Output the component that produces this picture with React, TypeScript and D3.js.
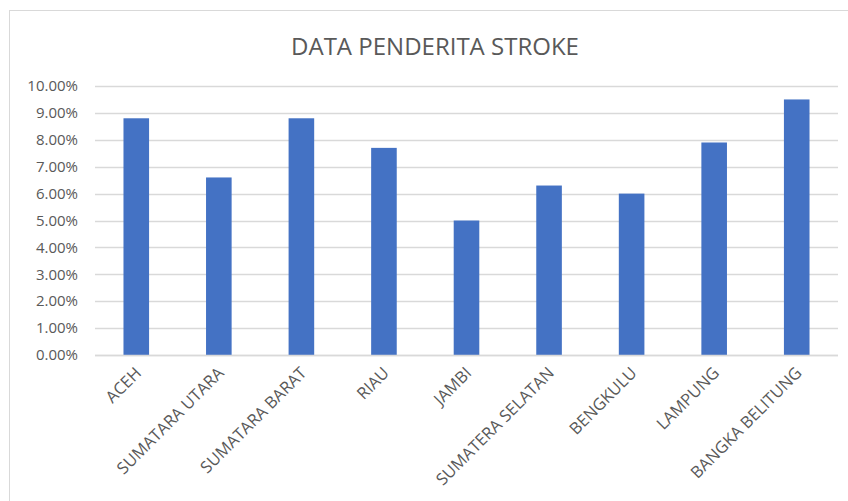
import React, { useEffect, useRef } from "react";
import * as d3 from "d3";

const categories = [
  "ACEH",
  "SUMATARA UTARA",
  "SUMATARA BARAT",
  "RIAU",
  "JAMBI",
  "SUMATERA SELATAN",
  "BENGKULU",
  "LAMPUNG",
  "BANGKA BELITUNG",
];
const values = [8.8, 6.6, 8.8, 7.7, 5.0, 6.3, 6.0, 7.9, 9.5];
const yTicks = [0, 1, 2, 3, 4, 5, 6, 7, 8, 9, 10];
const title = "DATA PENDERITA STROKE";

const W = 848;
const H = 501;
const font = "'Open Sans', 'Liberation Sans', sans-serif";

export default function App() {
  const svgRef = useRef<SVGSVGElement | null>(null);

  useEffect(() => {
    const svg = d3.select(svgRef.current);
    svg.selectAll("*").remove();

    const left = 95;
    const right = 838;
    const top = 86;
    const bottom = 355;

    // chart frame
    svg
      .append("rect")
      .attr("x", 9.5)
      .attr("y", 10.5)
      .attr("width", 860)
      .attr("height", 520)
      .attr("fill", "#fff")
      .attr("stroke", "#d9d9d9");

    svg
      .append("text")
      .attr("x", 435)
      .attr("y", 55)
      .attr("text-anchor", "middle")
      .attr("font-family", font)
      .attr("font-size", 24)
      .attr("fill", "#595959")
      .text(title);

    const x = d3.scaleBand<string>().domain(categories).range([left, right]).padding(0);
    const y = d3.scaleLinear().domain([0, 10]).range([bottom, top]);

    const g = svg.append("g");

    // gridlines
    g.selectAll("line.grid")
      .data(yTicks)
      .join("line")
      .attr("class", "grid")
      .attr("x1", left)
      .attr("x2", right)
      .attr("y1", (d) => Math.round(y(d)) + 0.5)
      .attr("y2", (d) => Math.round(y(d)) + 0.5)
      .attr("stroke", "#d9d9d9")
      .attr("stroke-width", 1.3);

    g.selectAll("text.ytick")
      .data(yTicks)
      .join("text")
      .attr("class", "ytick")
      .attr("x", 78)
      .attr("y", (d) => y(d))
      .attr("dy", "0.35em")
      .attr("text-anchor", "end")
      .attr("font-family", font)
      .attr("font-size", 15)
      .attr("fill", "#595959")
      .text((d) => d3.format(".2f")(d) + "%");

    const bw = x.bandwidth() * 0.31;
    g.selectAll("rect.bar")
      .data(values)
      .join("rect")
      .attr("class", "bar")
      .attr("x", (_, i) => x(categories[i])! + x.bandwidth() / 2 - bw / 2)
      .attr("width", bw)
      .attr("y", (d) => y(d))
      .attr("height", (d) => y(0) - y(d))
      .attr("fill", "#4472c4");

    // baseline drawn over bars
    g.append("line")
      .attr("x1", left)
      .attr("x2", right)
      .attr("y1", Math.round(y(0)) + 0.5)
      .attr("y2", Math.round(y(0)) + 0.5)
      .attr("stroke", "#d9d9d9")
      .attr("stroke-width", 1.3);

    g.selectAll("text.xtick")
      .data(categories)
      .join("text")
      .attr("class", "xtick")
      .attr(
        "transform",
        (d) => `translate(${x(d)! + x.bandwidth() / 2 + 2},${bottom + 15}) rotate(-45)`
      )
      .attr("text-anchor", "end")
      .attr("dy", "0.35em")
      .attr("font-family", font)
      .attr("font-size", 16.5)
      .attr("fill", "#595959")
      .text((d) => d);
  }, []);

  return (
    <svg
      ref={svgRef}
      width={W}
      height={H}
      style={{ position: "absolute", left: 0, top: 0, display: "block" }}
    />
  );
}
